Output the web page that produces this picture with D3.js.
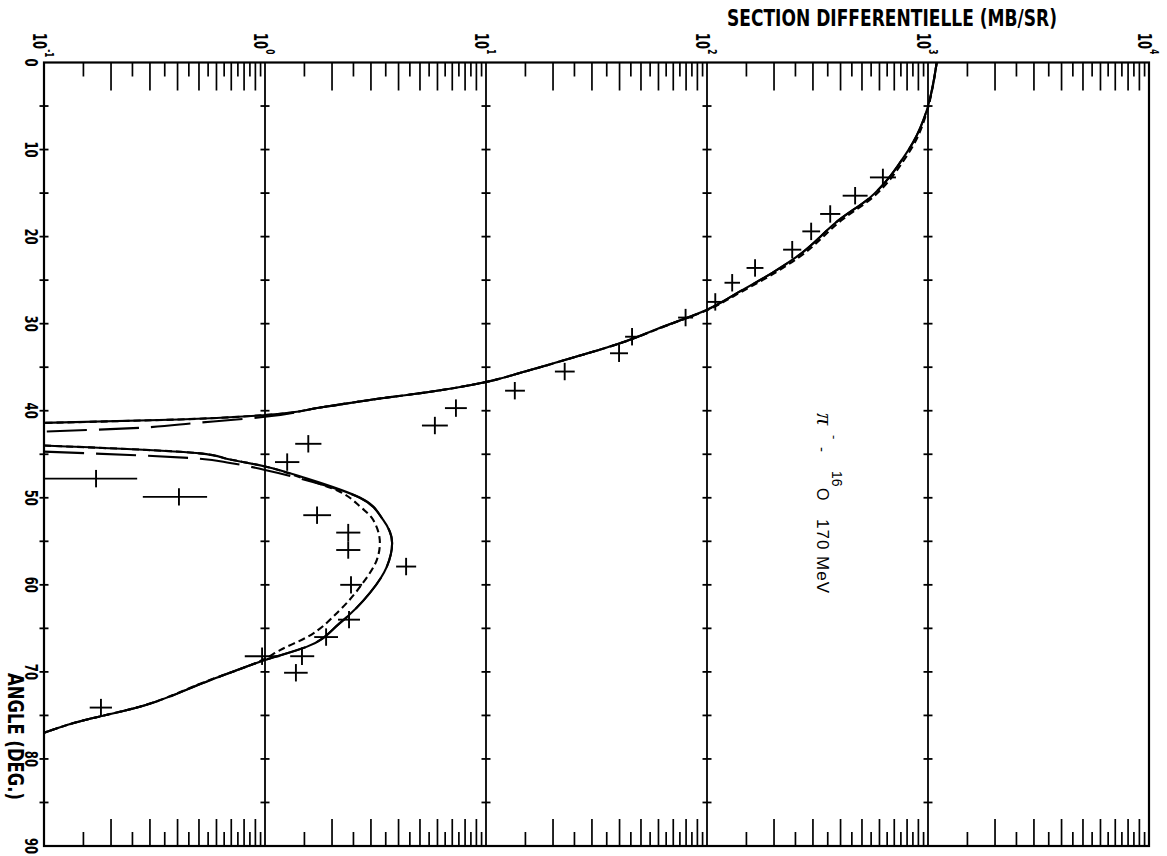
<!DOCTYPE html>
<html>
<head>
<meta charset="utf-8">
<script src="https://cdn.jsdelivr.net/npm/d3@7"></script>
<style>
  html, body { margin: 0; padding: 0; background: #fff; }
  svg { display: block; }
</style>
</head>
<body>
<svg id="chart" width="1167" height="856"></svg>
<script>
// ---- axis definitions -------------------------------------------------
// cross-section axis (mb/sr), log decades 10^-1 .. 10^4
const decadeExponents = [-1, 0, 1, 2, 3, 4];
// minor tick mantissas inside each decade (integers drawn long, halves short)
const minorMantissas = [1.5, 2, 2.5, 3, 3.5, 4, 4.5, 5, 5.5, 6, 6.5, 7, 7.5, 8, 8.5, 9, 9.5];
// scattering angle axis (deg)
const angleLabels = [0, 10, 20, 30, 40, 50, 60, 70, 80, 90];
const angleCrossTicks = [5, 10, 15, 20, 25, 30, 35, 40, 45, 50, 55, 60, 65, 70, 75, 80, 85];

// ---- measured cross sections ------------------------------------------
const expAngle = [13.2, 15.3, 17.4, 19.4, 21.5, 23.6, 25.3, 27.5, 29.3, 31.5,
                  33.4, 35.5, 37.7, 39.7, 41.7, 43.8, 45.9, 47.8, 49.9, 52.0,
                  54.0, 56.0, 57.9, 60.0, 64.0, 66.0, 68.2, 68.2, 70.1, 74.1];
const expValue = [625, 468, 361, 296, 243, 165, 130, 109, 80, 45.8,
                  40, 22.7, 13.5, 7.31, 5.87, 1.57, 1.26, 0.172, 0.408, 1.72,
                  2.38, 2.38, 4.35, 2.45, 2.40, 1.89, 1.47, 0.97, 1.38, 0.181];
const expLow   = [546, 411, 325, 270, 221, 151, 120, 100, 74, 42.6,
                  36.4, 20.5, 12.2, 6.52, 5.13, 1.37, 1.11, 0.101, 0.280, 1.49,
                  2.10, 2.10, 3.92, 2.19, 2.14, 1.67, 1.30, 0.81, 1.22, 0.161];
const expHigh  = [716, 533, 401, 325, 267, 180, 141, 118, 86.5, 49.3,
                  43.9, 25.2, 15.0, 8.19, 6.72, 1.80, 1.43, 0.264, 0.547, 1.99,
                  2.70, 2.70, 4.83, 2.75, 2.69, 2.14, 1.67, 1.16, 1.56, 0.203];
const expAngleErr = [1, 1, 1, 1, 1, 1, 1, 1, 1, 1,
                     1, 1, 1, 1, 1, 1, 1, 1, 1, 1,
                     1, 1, 1, 1, 1, 1, 1, 1, 1, 1];

// ---- calculated cross sections (null = below the plotted range) ---------
const solidAngle = [0, 2.5, 5.4, 9.2, 11.5, 13.1, 15.5, 18.0, 22.3, 24.1, 26.3, 28.4,
                    30.3, 32.2, 34.1, 35.5, 36.7, 37.8, 38.6, 39.6, 40.5, 41.0, 41.4,
                    42.8,
                    44.0, 44.9, 45.6, 46.4, 47.8, 50.0, 52.5, 55.2, 57.9, 60.9, 64.4,
                    67.1, 68.6, 71.1, 74.0, 75.9, 77.0];
const solidValue = [1095, 1054, 990, 855, 747, 672, 547, 400, 255, 199, 141, 100,
                    64, 41, 23.3, 15.0, 10, 5.70, 3.31, 1.81, 1.0, 0.41, 0.1,
                    null,
                    0.1, 0.508, 0.695, 1.0, 1.55, 2.69, 3.42, 3.76, 3.56, 2.99, 2.18,
                    1.55, 1.01, 0.547, 0.272, 0.135, 0.1];

const shortDashAngle = [0, 2.5, 5.4, 9.2, 11.5, 13.1, 15.5, 18.0, 22.3, 24.1, 26.3, 28.4,
                        30.3, 32.2, 34.1, 35.5, 36.7, 37.8, 38.6, 39.6, 40.5, 41.0, 41.4,
                        42.8,
                        44.0, 44.9, 45.6, 46.4, 47.8, 49.3, 51.0, 52.5, 55.2, 57.1, 59.8,
                        62.9, 66.0, 67.5, 68.6, 71.1, 74.0, 75.9, 77.0];
const shortDashValue = [1095, 1056, 995, 872, 765, 690, 562, 412, 263, 205, 144, 101,
                        64.5, 41, 23.3, 15.0, 10, 5.70, 3.31, 1.81, 1.0, 0.41, 0.1,
                        null,
                        0.1, 0.508, 0.695, 1.0, 1.5, 2.18, 2.69, 3.08, 3.31, 3.21, 2.77,
                        2.18, 1.55, 1.17, 0.98, 0.54, 0.27, 0.135, 0.1];

const longDashAngle = [0, 2.5, 5.4, 9.2, 11.5, 13.1, 15.5, 18.0, 22.3, 24.1, 26.3, 28.4,
                       30.3, 32.2, 34.1, 35.5, 36.7, 37.8, 38.6, 39.6, 40.7, 41.4, 42.0, 42.4,
                       43.5,
                       44.7, 45.5, 46.0, 46.8, 47.8, 50.0, 52.5, 55.2, 57.9, 60.9, 64.4,
                       67.1, 68.6, 71.1, 74.0, 75.9, 77.0];
const longDashValue = [1095, 1054, 990, 855, 747, 672, 547, 400, 255, 199, 141, 100,
                       64, 41, 23.3, 15.0, 10, 5.70, 3.31, 1.81, 1.0, 0.49, 0.253, 0.1,
                       null,
                       0.1, 0.50, 0.695, 1.0, 1.45, 2.69, 3.42, 3.76, 3.56, 2.99, 2.18,
                       1.55, 1.01, 0.547, 0.272, 0.135, 0.1];

// ---- drawing -------------------------------------------------------------
const plotFont = "'DejaVu Sans Condensed', 'DejaVu Sans', sans-serif";
const svg = d3.select("#chart");

const x = d3.scaleLog().domain([0.1, 1e4]).range([44, 1149]);
const y = d3.scaleLinear().domain([0, 90]).range([62.5, 846]);

svg.append("rect").attr("width", 1167).attr("height", 856).attr("fill", "#fff");

// minor ticks along top (pointing down) and bottom (pointing up)
const minorLong = [], minorShort = [];
decadeExponents.slice(0, -1).forEach(e => {
  minorMantissas.forEach(m => {
    (Number.isInteger(m) ? minorLong : minorShort).push(m * Math.pow(10, e));
  });
});

function minorAxis(axisFn, yPos, values, size) {
  const g = svg.append("g")
    .attr("transform", `translate(0,${yPos})`)
    .call(axisFn(x).tickValues(values).tickSize(size).tickFormat(""));
  g.select(".domain").remove();
  g.selectAll(".tick line").attr("stroke", "#000").attr("stroke-width", 1.7);
}
minorAxis(d3.axisBottom, y(0), minorLong, 28);
minorAxis(d3.axisBottom, y(0), minorShort, 14);
minorAxis(d3.axisTop, y(90), minorLong, 27);
minorAxis(d3.axisTop, y(90), minorShort, 14);

// decade grid lines
svg.append("g").selectAll("line")
  .data(decadeExponents.slice(1, -1))
  .join("line")
  .attr("x1", e => x(Math.pow(10, e))).attr("x2", e => x(Math.pow(10, e)))
  .attr("y1", y(0)).attr("y2", y(90))
  .attr("stroke", "#000").attr("stroke-width", 1.8);

// small cross ticks every 5 degrees on the left axis and the decade lines
const crossPairs = [];
decadeExponents.slice(0, -1).forEach(e => angleCrossTicks.forEach(a => crossPairs.push([e, a])));
svg.append("g").selectAll("line")
  .data(crossPairs)
  .join("line")
  .attr("x1", d => x(Math.pow(10, d[0])) - 4.5)
  .attr("x2", d => x(Math.pow(10, d[0])) + 4.5)
  .attr("y1", d => y(d[1])).attr("y2", d => y(d[1]))
  .attr("stroke", "#000").attr("stroke-width", 1.8);

// frame
svg.append("rect")
  .attr("x", x(0.1)).attr("y", y(0))
  .attr("width", x(1e4) - x(0.1)).attr("height", y(90) - y(0))
  .attr("fill", "none").attr("stroke", "#000").attr("stroke-width", 2.2);

// decade labels (rotated, narrow plotter-style lettering, 10 with exponent)
const dLab = svg.append("g").selectAll("text")
  .data(decadeExponents)
  .join("text")
  .attr("transform", e => `translate(${x(Math.pow(10, e)) - 11},33) rotate(90) scale(0.68,1)`)
  .attr("font-family", plotFont).attr("font-weight", "bold")
  .attr("font-size", 19).attr("fill", "#000");
dLab.append("tspan").text("10");
dLab.append("tspan").attr("dy", -12).attr("font-size", 12)
  .text(e => e < 0 ? "-" + Math.abs(e) : String(e));

// angle labels (rotated)
svg.append("g").selectAll("text")
  .data(angleLabels)
  .join("text")
  .attr("transform", a => `translate(25,${y(a)}) rotate(90) scale(0.72,1)`)
  .attr("text-anchor", "middle")
  .attr("font-family", plotFont).attr("font-weight", "bold")
  .attr("font-size", 18).attr("fill", "#000")
  .text(a => a);

// axis titles
svg.append("text")
  .attr("x", 892).attr("y", 26)
  .attr("text-anchor", "middle")
  .attr("font-family", plotFont).attr("font-weight", "bold")
  .attr("font-size", 23).attr("fill", "#000")
  .attr("textLength", 330).attr("lengthAdjust", "spacingAndGlyphs")
  .text("SECTION DIFFERENTIELLE (MB/SR)");

svg.append("text")
  .attr("transform", "translate(8,673) rotate(90)")
  .attr("font-family", plotFont).attr("font-weight", "bold")
  .attr("font-size", 21).attr("fill", "#000")
  .attr("textLength", 127).attr("lengthAdjust", "spacingAndGlyphs")
  .text("ANGLE (DEG.)");

// reaction label (rotated; pieces placed along the reading direction)
const reac = svg.append("text")
  .attr("transform", "translate(817,413) rotate(90)")
  .attr("font-family", "'Liberation Sans', Arial, sans-serif")
  .attr("font-size", 15).attr("fill", "#000");
reac.append("tspan").attr("x", 0).attr("y", 0)
  .attr("font-family", "'Liberation Serif', serif")
  .attr("font-style", "italic").attr("font-size", 24).text("π");
reac.append("tspan").attr("x", 22).attr("y", -13).attr("font-size", 13).text("-");
reac.append("tspan").attr("x", 34).attr("y", 0).text("-");
reac.append("tspan").attr("x", 58).attr("y", -15).attr("font-size", 14).text("16");
reac.append("tspan").attr("x", 75).attr("y", 0).attr("font-size", 16).text("O");
reac.append("tspan").attr("x", 106).attr("y", 0).attr("font-size", 17)
  .attr("letter-spacing", 1).text("170 MeV");

// calculated curves
const lineGen = d3.line()
  .defined(d => d.v !== null)
  .x(d => x(d.v)).y(d => y(d.a))
  .curve(d3.curveMonotoneY);

function curve(angles, values, dash) {
  const pts = angles.map((a, i) => ({ a: a, v: values[i] }));
  svg.append("path")
    .datum(pts)
    .attr("d", lineGen)
    .attr("fill", "none").attr("stroke", "#000")
    .attr("stroke-width", 2.1)
    .attr("stroke-dasharray", dash);
}
curve(longDashAngle, longDashValue, "40,12");
curve(shortDashAngle, shortDashValue, "7,4");
curve(solidAngle, solidValue, null);

// experimental points with error crosses
const pts = expAngle.map((a, i) => ({
  a: a, v: expValue[i], lo: expLow[i], hi: expHigh[i], da: expAngleErr[i]
}));
const gp = svg.append("g").attr("stroke", "#000").attr("stroke-width", 1.9);
gp.selectAll("line.h").data(pts).join("line").attr("class", "h")
  .attr("x1", d => x(Math.max(d.lo, 0.1))).attr("x2", d => x(d.hi))
  .attr("y1", d => y(d.a)).attr("y2", d => y(d.a));
gp.selectAll("line.v").data(pts).join("line").attr("class", "v")
  .attr("x1", d => x(d.v)).attr("x2", d => x(d.v))
  .attr("y1", d => y(d.a - d.da)).attr("y2", d => y(d.a + d.da));
</script>
</body>
</html>
